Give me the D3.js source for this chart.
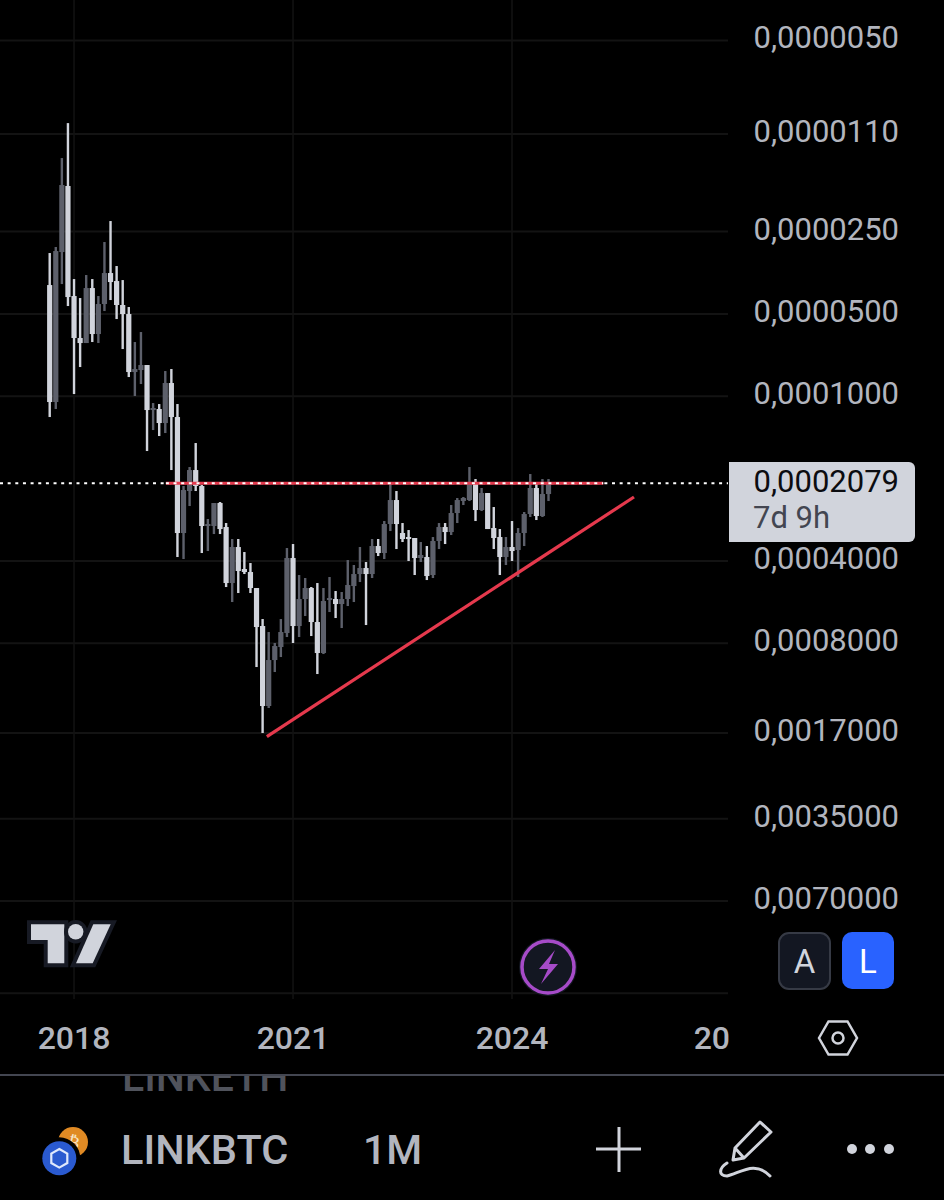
<!DOCTYPE html>
<html>
<head>
<meta charset="utf-8">
<script src="https://d3js.org/d3.v7.min.js"></script>
<style>
    html, body { margin: 0; padding: 0; background: #000; }
    svg { display: block; }
    text { font-family: Roboto, sans-serif; }
</style>
</head>
<body>
<svg id="chart" width="944" height="1200"></svg>
<script>
// LINKBTC monthly candles, Sep 2017 to Jul 2024, prices in satoshi
const opens = [3920, 10492, 2969, 1703, 4299, 6122, 6386, 4020, 5920, 4599, 3543, 3790,
    4637, 5003, 8151, 8015, 7684, 11224, 11129, 12521, 8941, 11904, 31603, 22192,
    18599, 21277, 29794, 29794, 24551, 30046, 48140, 35554, 42788, 43881, 50208, 69132,
    135551, 92044, 82497, 73329, 39003, 69132, 55080, 50208, 66842, 86771, 55548, 55080,
    57447, 55080, 49371, 44627, 42428, 44627, 35256, 37396, 29297, 23941, 31603, 32685,
    32961, 39003, 38676, 45001, 33803, 30046, 31340, 26706, 24140, 23941, 20747, 26040,
    22569, 30300, 32685, 38676, 35554, 36466, 31603, 26932, 21638, 27389, 22761];
const highs = [11904, 11129, 3887, 4677, 9809, 7815, 6386, 6332, 6386, 4878, 4447, 5218,
    6717, 8502, 9975, 9017, 15848, 13282, 13969, 13621, 18599, 38676, 39334, 25178,
    22192, 37396, 36771, 31871, 31871, 49787, 56486, 52366, 44627, 52366, 97621, 170137,
    137852, 101816, 89741, 75838, 79767, 75838, 63551, 75203, 103548, 87510, 61446, 64629,
    70305, 58422, 56486, 47735, 68550, 46153, 38352, 39334, 31075, 36160, 34089, 40000,
    45001, 40340, 46942, 46153, 36160, 34668, 32138, 29052, 24966, 24140, 28566, 26260,
    30557, 36160, 45001, 41368, 40000, 45767, 35256, 27620, 28326, 27620, 24140];
const lows = [2994, 2846, 1346, 1003, 3727, 4373, 3603, 3727, 4299, 2729, 2287, 3340,
    3759, 4716, 6332, 5821, 7684, 10581, 10670, 8083, 7948, 10670, 21277, 18133,
    14817, 21098, 28091, 24551, 24344, 29052, 33239, 33239, 37082, 40680, 50208, 65178,
    72712, 79767, 65178, 35855, 34668, 45001, 46153, 49787, 48140, 50208, 45767, 51491,
    51926, 39669, 41368, 35554, 40340, 33239, 33239, 28566, 20747, 22192, 29052, 30817,
    32961, 34089, 35256, 32685, 29052, 29052, 24966, 23538, 23341, 18133, 20060, 21638,
    22569, 25391, 30557, 32685, 28566, 30300, 26483, 19233, 20747, 20060, 20060];
const closes = [10492, 2944, 1689, 4336, 6122, 6386, 4020, 5920, 4599, 3543, 3822, 4637,
    5003, 8151, 7948, 7684, 11224, 11035, 12521, 8941, 11904, 31603, 22008, 18599,
    21277, 29794, 29297, 24551, 30557, 48140, 35554, 43513, 43881, 50208, 69715, 135551,
    92044, 81807, 72712, 39003, 69132, 55080, 50208, 66842, 86771, 56013, 54617, 57447,
    55080, 48954, 44627, 42428, 44627, 35256, 37396, 29297, 23941, 29297, 33239, 33239,
    39003, 38029, 45384, 33803, 30046, 31340, 26706, 23941, 23538, 20747, 26040, 22569,
    30557, 32961, 38676, 35554, 36771, 31603, 26932, 21638, 27389, 22761, 20790];

const priceTicks = [500, 1100, 2500, 5000, 10000, 40000, 80000, 170000, 350000, 700000];
const bottomGrid = 1520000;
const lastPrice = 20790;
const lastPriceCountdown = "7d 9h";
const timeTickBars = [4, 40, 76, 112];
const timeTickLabels = ["2018", "2021", "2024", "20"];

// drawings, bar index and price in satoshi
const resistance = [{ bar: 19.1, price: 20790 }, { bar: 91.0, price: 20790 }];
const trendline = [{ bar: 35.7, price: 175300 }, { bar: 96.05, price: 23340 }];

const light = "#d1d4dc";
const dark = "#5d606b";
const labelColor = "#b2b5be";
const gridColor = "#131313";
const red = "#e5394d";

let svg = d3.select("#chart");

// inverted log axis: higher price sits lower on screen
let y = d3.scaleLog().domain([500, 1520000]).range([40.4, 993.2]);
let x = d3.scaleLinear().domain([0, 112]).range([49.7, 731]);
let bars = d3.range(opens.length);
let sats = v => v * 1e-8;
let priceText = v => d3.format(".7f")(sats(v)).replace(".", ",");

// grid
svg.append("g").selectAll("line")
    .data(priceTicks.concat(bottomGrid))
    .enter().append("line")
    .attr("x1", 0).attr("x2", 728)
    .attr("y1", d => y(d)).attr("y2", d => y(d))
    .attr("stroke", gridColor).attr("stroke-width", 2);

svg.append("g").selectAll("line")
    .data(timeTickBars.slice(0, 3))
    .enter().append("line")
    .attr("x1", d => x(d)).attr("x2", d => x(d))
    .attr("y1", 0).attr("y2", 999)
    .attr("stroke", gridColor).attr("stroke-width", 1.5);

// last price dotted line
svg.append("line")
    .attr("x1", 0).attr("x2", 728)
    .attr("y1", y(lastPrice)).attr("y2", y(lastPrice))
    .attr("stroke", "#fff").attr("stroke-width", 2)
    .attr("stroke-dasharray", "3 4.65");

// candles
let color = i => closes[i] >= opens[i] ? light : dark;

svg.append("g").selectAll("rect")
    .data(bars)
    .enter().append("rect")
    .attr("x", i => x(i) - 1.2)
    .attr("width", 2.4)
    .attr("y", i => y(lows[i]))
    .attr("height", i => y(highs[i]) - y(lows[i]))
    .attr("fill", color);

svg.append("g").selectAll("rect")
    .data(bars)
    .enter().append("rect")
    .attr("x", i => x(i) - 2.6)
    .attr("width", 5.2)
    .attr("y", i => y(Math.min(opens[i], closes[i])))
    .attr("height", i => Math.max(1.5, Math.abs(y(opens[i]) - y(closes[i]))))
    .attr("fill", color);

// drawn lines
let drawn = d3.line().x(d => x(d.bar)).y(d => y(d.price));

svg.append("path")
    .attr("d", drawn(resistance))
    .attr("fill", "none").attr("stroke", red).attr("stroke-width", 3.2);

svg.append("path")
    .attr("d", drawn(trendline))
    .attr("fill", "none").attr("stroke", red).attr("stroke-width", 3.2);

svg.append("line")
    .attr("x1", x(resistance[0].bar)).attr("x2", x(resistance[1].bar))
    .attr("y1", y(lastPrice)).attr("y2", y(lastPrice))
    .attr("stroke", "#fff").attr("stroke-width", 2)
    .attr("stroke-dasharray", "3 4.65");

// price axis labels
svg.append("g").selectAll("text")
    .data(priceTicks)
    .enter().append("text")
    .attr("x", 899)
    .attr("y", d => y(d) + 8)
    .attr("text-anchor", "end")
    .attr("fill", labelColor)
    .style("font-size", "31px")
    .text(priceText);

// price tag
svg.append("path")
    .attr("d", "M729,462H909a6,6 0 0 1 6,6V536a6,6 0 0 1 -6,6H729Z")
    .attr("fill", light);
svg.append("text")
    .attr("x", 899).attr("y", 492)
    .attr("text-anchor", "end")
    .attr("fill", "#0b0c10")
    .style("font-size", "31px")
    .text(priceText(lastPrice));
svg.append("text")
    .attr("x", 753).attr("y", 528)
    .attr("fill", "#434651")
    .style("font-size", "31px")
    .text(lastPriceCountdown);

// time axis labels
svg.append("g").selectAll("text")
    .data(timeTickBars)
    .enter().append("text")
    .attr("x", (d, i) => i < 3 ? x(d) : x(d) - 1)
    .attr("y", 1049)
    .attr("text-anchor", (d, i) => i < 3 ? "middle" : "end")
    .attr("fill", labelColor)
    .style("font-size", "32px").style("font-weight", 500)
    .text((d, i) => timeTickLabels[i]);

// TradingView logo
let logo = svg.append("g").attr("fill", light)
    .attr("stroke", "#171a24").attr("stroke-width", 8)
    .style("paint-order", "stroke");
logo.append("path").attr("d", "M31,924.3H64.3V963.3H47.7V940H31Z");
logo.append("circle").attr("cx", 75.7).attr("cy", 931.7).attr("r", 7.7);
logo.append("path").attr("d", "M93.3,924.3H110.7L92.7,963.3H76Z");

// bolt badge
svg.append("circle").attr("cx", 548).attr("cy", 967).attr("r", 29).attr("fill", "#131722");
svg.append("circle").attr("cx", 548).attr("cy", 967).attr("r", 26)
    .attr("fill", "#131722").attr("stroke", "#a64bc8").attr("stroke-width", 3.5);
svg.append("path")
    .attr("d", "M555,950L539,969H548L541,984L558,964H549Z")
    .attr("fill", "#a64bc8");

// A and L buttons
svg.append("rect").attr("x", 779).attr("y", 933).attr("width", 51).attr("height", 56).attr("rx", 10)
    .attr("fill", "#131722").attr("stroke", "#363a45").attr("stroke-width", 2);
svg.append("text").attr("x", 804.5).attr("y", 973).attr("text-anchor", "middle")
    .attr("fill", light).style("font-size", "33px").text("A");
svg.append("rect").attr("x", 842).attr("y", 932).attr("width", 52).attr("height", 57).attr("rx", 10)
    .attr("fill", "#2962ff");
svg.append("text").attr("x", 868).attr("y", 973).attr("text-anchor", "middle")
    .attr("fill", "#fff").style("font-size", "33px").text("L");

// settings hexagon
svg.append("path")
    .attr("d", "M819,1038L828.5,1021.5H847.5L857,1038L847.5,1054.5H828.5Z")
    .attr("fill", "none").attr("stroke", light).attr("stroke-width", 2.5);
svg.append("circle").attr("cx", 838).attr("cy", 1038).attr("r", 5.5)
    .attr("fill", "none").attr("stroke", light).attr("stroke-width", 2.5);

// bottom bar
svg.append("clipPath").attr("id", "underBar")
    .append("rect").attr("x", 0).attr("y", 1076).attr("width", 944).attr("height", 40);
svg.append("text")
    .attr("x", 122).attr("y", 1091)
    .attr("clip-path", "url(#underBar)")
    .attr("fill", "#50535c")
    .style("font-size", "41px").style("font-weight", 500)
    .text("LINKETH");
svg.append("rect").attr("x", 0).attr("y", 1074).attr("width", 944).attr("height", 2).attr("fill", "#434651");

// pair icons
svg.append("circle").attr("cx", 73).attr("cy", 1142).attr("r", 15).attr("fill", "#e08a24");
svg.append("text").attr("x", 74).attr("y", 1148).attr("text-anchor", "middle")
    .attr("transform", "rotate(14 74 1142)")
    .attr("fill", "#f6e3c5").style("font-size", "17px").style("font-family", "DejaVu Sans").text("₿");
svg.append("circle").attr("cx", 59.3).attr("cy", 1158.3).attr("r", 21).attr("fill", "#000");
svg.append("circle").attr("cx", 59.3).attr("cy", 1158.3).attr("r", 17).attr("fill", "#2a5ad0");
svg.append("path")
    .attr("d", "M59.3,1149L67.3,1153.6V1163L59.3,1167.6L51.3,1163V1153.6Z")
    .attr("fill", "none").attr("stroke", "#dfe8fb").attr("stroke-width", 2.2);

svg.append("text")
    .attr("x", 121).attr("y", 1164)
    .attr("fill", labelColor)
    .style("font-size", "41.5px").style("font-weight", 500)
    .text("LINKBTC");
svg.append("text")
    .attr("x", 363).attr("y", 1164)
    .attr("fill", labelColor)
    .style("font-size", "41px").style("font-weight", 500)
    .text("1M");

// plus
svg.append("path")
    .attr("d", "M596,1149H641M619,1127V1172")
    .attr("stroke", light).attr("stroke-width", 3).attr("fill", "none");

// pen
svg.append("path")
    .attr("d", "M760,1122L771,1132L744,1158L733,1160L735,1148ZM735,1148L744,1158")
    .attr("stroke", light).attr("stroke-width", 3).attr("stroke-linejoin", "round").attr("fill", "none");
svg.append("path")
    .attr("d", "M727,1163C719,1168 718,1176 727,1176C740,1173 755,1160 770,1176")
    .attr("stroke", light).attr("stroke-width", 3).attr("stroke-linecap", "round").attr("fill", "none");

// more dots
svg.append("g").selectAll("circle")
    .data([852, 870, 889])
    .enter().append("circle")
    .attr("cx", d => d).attr("cy", 1149).attr("r", 5)
    .attr("fill", light);
</script>
</body>
</html>
